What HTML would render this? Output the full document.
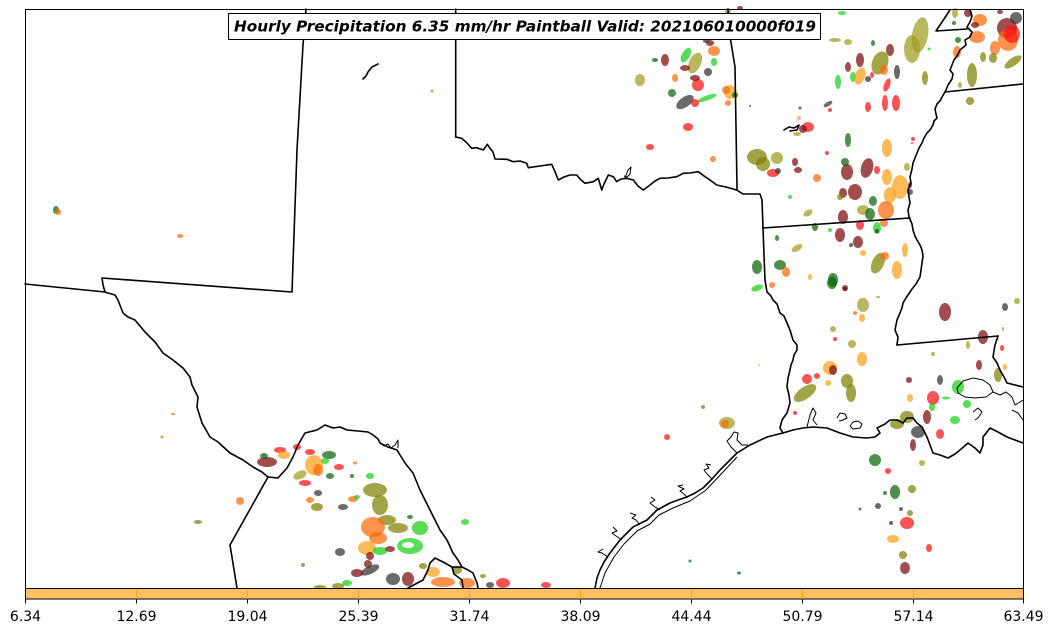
<!DOCTYPE html>
<html><head><meta charset="utf-8"><style>
html,body{margin:0;padding:0;background:#fff;}
svg{display:block;}
.b{fill:none;stroke:#000;stroke-width:1.6;stroke-linejoin:round;stroke-linecap:round;}
.t{fill:none;stroke:#000;stroke-width:1;stroke-linejoin:round;}
.bl ellipse{fill-opacity:.72;}
.DR{fill:#7a0808}.R{fill:#ff1010}.O{fill:#ff6a08}.LO{fill:#ffa018}.OL{fill:#7f7f00}.OL2{fill:#a09c20}.G{fill:#18d018}.DG{fill:#0a640a}.GR{fill:#303030}
</style></head><body>
<svg width="1053" height="633" viewBox="0 0 1053 633" xmlns="http://www.w3.org/2000/svg">
<rect width="1053" height="633" fill="#fff"/>

<!-- precipitation blobs -->
<g class="bl">
<!-- far west -->
<ellipse class="DG" cx="56" cy="210" rx="3" ry="4"/><ellipse class="O" cx="58" cy="212" rx="3" ry="3"/>
<ellipse class="O" cx="180" cy="236" rx="3" ry="2"/>
<ellipse class="O" cx="432" cy="91" rx="1.5" ry="1.5"/>
<ellipse class="O" cx="173" cy="414" rx="2" ry="1"/><ellipse class="O" cx="162" cy="437" rx="1.5" ry="1.5"/>
<ellipse class="O" cx="240" cy="501" rx="4" ry="4"/>
<ellipse class="OL" cx="198" cy="522" rx="4" ry="2"/>
<!-- SW Texas cluster -->
<ellipse class="R" cx="280" cy="450" rx="6" ry="3"/>
<ellipse class="DR" cx="267" cy="462" rx="10" ry="5"/>
<ellipse class="DG" cx="264" cy="456" rx="4" ry="3"/>
<ellipse class="LO" cx="284" cy="455" rx="6" ry="4"/>
<ellipse class="R" cx="297" cy="447" rx="4" ry="3"/>
<ellipse class="R" cx="310" cy="452" rx="5" ry="3"/>
<ellipse class="LO" cx="314" cy="465" rx="9" ry="10"/>
<ellipse class="O" cx="318" cy="470" rx="5" ry="6"/>
<ellipse class="DG" cx="329" cy="455" rx="7" ry="4"/>
<ellipse class="G" cx="325" cy="461" rx="4" ry="3"/>
<ellipse class="R" cx="339" cy="467" rx="5" ry="3"/>
<ellipse class="OL2" cx="300" cy="475" rx="7" ry="4" transform="rotate(-25 300 475)"/>
<ellipse class="R" cx="305" cy="483" rx="6" ry="3"/>
<ellipse class="DG" cx="330" cy="476" rx="4" ry="3"/>
<ellipse class="G" cx="370" cy="476" rx="4" ry="3"/>
<ellipse class="DG" cx="352" cy="476" rx="2" ry="2"/>
<ellipse class="O" cx="355" cy="463" rx="2" ry="1.5"/>
<ellipse class="GR" cx="318" cy="493" rx="4" ry="3"/>
<ellipse class="O" cx="310" cy="500" rx="4" ry="3"/>
<ellipse class="OL" cx="317" cy="507" rx="6" ry="4"/>
<ellipse class="GR" cx="343" cy="507" rx="5" ry="3"/>
<ellipse class="O" cx="353" cy="499" rx="5" ry="3"/>
<ellipse class="G" cx="357" cy="497" rx="3" ry="2"/>
<ellipse class="OL" cx="375" cy="490" rx="12" ry="7"/>
<ellipse class="OL" cx="380" cy="505" rx="8" ry="10"/>
<ellipse class="OL" cx="387" cy="520" rx="9" ry="5"/>
<ellipse class="O" cx="373" cy="527" rx="12" ry="10"/>
<ellipse class="O" cx="378" cy="538" rx="9" ry="6"/>
<ellipse class="OL" cx="398" cy="528" rx="10" ry="5"/>
<ellipse class="G" cx="420" cy="528" rx="8" ry="7"/>
<ellipse class="G" cx="410" cy="546" rx="13" ry="8"/>
<ellipse fill="#fff" cx="408" cy="545" rx="6" ry="3" style="fill-opacity:1"/>
<ellipse class="LO" cx="367" cy="548" rx="9" ry="7"/>
<ellipse class="G" cx="380" cy="551" rx="7" ry="4"/>
<ellipse class="GR" cx="340" cy="552" rx="5" ry="4"/>
<ellipse class="DR" cx="370" cy="556" rx="4" ry="4"/>
<ellipse class="DR" cx="390" cy="549" rx="5" ry="3"/>
<ellipse class="DR" cx="368" cy="564" rx="4" ry="4"/>
<ellipse class="OL" cx="303" cy="565" rx="2" ry="2"/>
<ellipse class="GR" cx="370" cy="570" rx="10" ry="4" transform="rotate(-25 370 570)"/>
<ellipse class="DR" cx="357" cy="573" rx="6" ry="4"/>
<ellipse class="GR" cx="393" cy="579" rx="7" ry="6"/>
<ellipse class="DR" cx="408" cy="579" rx="6" ry="7"/>
<ellipse class="OL" cx="423" cy="566" rx="4" ry="3"/>
<ellipse class="LO" cx="433" cy="572" rx="7" ry="5"/>
<ellipse class="O" cx="443" cy="582" rx="12" ry="5"/>
<ellipse class="OL" cx="457" cy="570" rx="5" ry="4"/>
<ellipse class="O" cx="467" cy="583" rx="8" ry="5"/>
<ellipse class="OL" cx="483" cy="576" rx="3" ry="2"/>
<ellipse class="GR" cx="490" cy="585" rx="4" ry="3"/>
<ellipse class="R" cx="503" cy="583" rx="7" ry="5"/>
<ellipse class="R" cx="546" cy="585" rx="5" ry="3"/>
<ellipse class="G" cx="465" cy="522" rx="4" ry="3"/>
<ellipse class="G" cx="347" cy="583" rx="5" ry="3"/>
<ellipse class="OL" cx="338" cy="586" rx="6" ry="3"/>
<ellipse class="OL" cx="320" cy="587" rx="6" ry="2"/>
<ellipse class="DG" cx="410" cy="517" rx="3" ry="2"/>
<!-- central Texas / east Texas small -->
<ellipse class="R" cx="667" cy="437" rx="3" ry="3"/>
<ellipse class="OL" cx="703" cy="407" rx="2" ry="2"/>
<ellipse class="OL2" cx="727" cy="423" rx="8" ry="6"/>
<ellipse class="O" cx="725" cy="424" rx="4" ry="4"/>
<ellipse class="DG" cx="690" cy="561" rx="1.5" ry="1.5"/>
<ellipse class="DG" cx="739" cy="573" rx="2" ry="1.5"/>
<ellipse class="LO" cx="759" cy="365" rx="1" ry="1"/>
<!-- Louisiana -->
<ellipse class="G" cx="757" cy="288" rx="6" ry="3" transform="rotate(-20 757 288)"/>
<ellipse class="O" cx="772" cy="285" rx="3" ry="3"/>
<ellipse class="DG" cx="832" cy="283" rx="5" ry="6"/>
<ellipse class="DR" cx="845" cy="288" rx="3" ry="3"/>
<ellipse class="OL2" cx="863" cy="305" rx="6" ry="7"/>
<ellipse class="LO" cx="862" cy="318" rx="3" ry="4"/>
<ellipse class="O" cx="855" cy="313" rx="2" ry="2"/>
<ellipse class="OL2" cx="833" cy="329" rx="3" ry="3"/>
<ellipse class="R" cx="835" cy="339" rx="2" ry="2"/>
<ellipse class="OL2" cx="852" cy="344" rx="4" ry="4"/>
<ellipse class="LO" cx="862" cy="359" rx="5" ry="7"/>
<ellipse class="LO" cx="830" cy="368" rx="7" ry="7"/>
<ellipse class="DR" cx="833" cy="370" rx="4" ry="5"/>
<ellipse class="R" cx="807" cy="379" rx="5" ry="5"/>
<ellipse class="R" cx="817" cy="376" rx="3" ry="3"/>
<ellipse class="OL" cx="805" cy="393" rx="13" ry="6" transform="rotate(-35 805 393)"/>
<ellipse class="OL" cx="847" cy="381" rx="6" ry="7"/>
<ellipse class="OL" cx="851" cy="393" rx="5" ry="9"/>
<ellipse class="LO" cx="828" cy="383" rx="3" ry="3"/>
<ellipse class="R" cx="795" cy="413" rx="2" ry="2"/>
<ellipse class="DR" cx="945" cy="312" rx="6" ry="9"/>
<ellipse class="GR" cx="1005" cy="307" rx="3" ry="4"/>
<ellipse class="OL2" cx="1017" cy="301" rx="3" ry="3"/>
<ellipse class="DR" cx="983" cy="337" rx="5" ry="7"/>
<ellipse class="R" cx="1002" cy="348" rx="2" ry="3"/>
<ellipse class="OL2" cx="968" cy="345" rx="2" ry="4"/>
<ellipse class="OL2" cx="933" cy="354" rx="2" ry="2"/>
<ellipse class="DR" cx="979" cy="365" rx="3" ry="5"/>
<ellipse class="OL" cx="998" cy="375" rx="4" ry="7"/>
<ellipse class="LO" cx="1005" cy="367" rx="2" ry="3"/>
<ellipse class="DR" cx="909" cy="380" rx="3" ry="3"/>
<ellipse class="GR" cx="940" cy="380" rx="3" ry="5"/>
<ellipse class="G" cx="958" cy="387" rx="6" ry="7"/>
<ellipse class="R" cx="933" cy="398" rx="6" ry="7"/>
<ellipse class="G" cx="932" cy="407" rx="3" ry="4"/>
<ellipse class="G" cx="946" cy="398" rx="4" ry="1.5"/>
<ellipse class="LO" cx="910" cy="398" rx="3" ry="4"/>
<ellipse class="G" cx="967" cy="404" rx="4" ry="4"/>
<ellipse class="G" cx="955" cy="420" rx="5" ry="4"/>
<ellipse class="OL" cx="907" cy="417" rx="7" ry="6"/>
<ellipse class="OL" cx="897" cy="424" rx="7" ry="5"/>
<ellipse class="GR" cx="918" cy="432" rx="7" ry="6"/>
<ellipse class="DR" cx="927" cy="417" rx="4" ry="7"/>
<ellipse class="R" cx="940" cy="434" rx="4" ry="5"/>
<ellipse class="DR" cx="913" cy="445" rx="3" ry="6"/>
<ellipse class="OL2" cx="922" cy="463" rx="3" ry="3"/>
<ellipse class="DG" cx="875" cy="460" rx="6" ry="6"/>
<ellipse class="R" cx="888" cy="471" rx="3" ry="3"/>
<ellipse class="DG" cx="895" cy="492" rx="5" ry="7"/>
<ellipse class="DG" cx="885" cy="493" rx="2" ry="2"/>
<ellipse class="OL" cx="912" cy="489" rx="4" ry="4"/>
<ellipse class="GR" cx="878" cy="506" rx="3" ry="3"/>
<ellipse class="GR" cx="901" cy="509" rx="2" ry="2"/>
<ellipse class="OL" cx="910" cy="513" rx="3" ry="3"/>
<ellipse class="DG" cx="860" cy="509" rx="1.5" ry="1.5"/>
<ellipse class="R" cx="907" cy="523" rx="7" ry="6"/>
<ellipse class="DR" cx="891" cy="523" rx="2" ry="2"/>
<ellipse class="LO" cx="893" cy="539" rx="6" ry="4"/>
<ellipse class="OL" cx="903" cy="555" rx="4" ry="4"/>
<ellipse class="R" cx="929" cy="548" rx="3" ry="4"/>
<ellipse class="DR" cx="905" cy="568" rx="5" ry="6"/>
<ellipse class="OL2" cx="1003" cy="329" rx="1" ry="2"/>
<!-- north Texas / Oklahoma east -->
<ellipse class="G" cx="842" cy="13" rx="4" ry="2"/>
<ellipse class="OL2" cx="835" cy="40" rx="6" ry="2"/>
<ellipse class="OL2" cx="848" cy="42" rx="4" ry="3"/>
<ellipse class="DG" cx="873" cy="43" rx="2" ry="3"/>
<ellipse class="DR" cx="665" cy="60" rx="4" ry="6"/>
<ellipse class="DG" cx="655" cy="60" rx="3" ry="2"/>
<ellipse class="G" cx="686" cy="55" rx="4" ry="8" transform="rotate(30 686 55)"/>
<ellipse class="OL2" cx="695" cy="63" rx="6" ry="11" transform="rotate(25 695 63)"/>
<ellipse class="O" cx="714" cy="51" rx="6" ry="5"/>
<ellipse class="DR" cx="710" cy="43" rx="4" ry="3"/>
<ellipse class="GR" cx="706" cy="41" rx="3" ry="2"/>
<ellipse class="G" cx="714" cy="62" rx="3" ry="4"/>
<ellipse class="DR" cx="685" cy="68" rx="5" ry="3"/>
<ellipse class="GR" cx="708" cy="72" rx="4" ry="4"/>
<ellipse class="OL2" cx="640" cy="80" rx="5" ry="6"/>
<ellipse class="O" cx="675" cy="78" rx="3" ry="4"/>
<ellipse class="R" cx="698" cy="85" rx="6" ry="6"/>
<ellipse class="DR" cx="695" cy="78" rx="5" ry="3"/>
<ellipse class="DG" cx="672" cy="93" rx="4" ry="4"/>
<ellipse class="GR" cx="685" cy="102" rx="10" ry="5" transform="rotate(-35 685 102)"/>
<ellipse class="G" cx="707" cy="98" rx="10" ry="2.5" transform="rotate(-20 707 98)"/>
<ellipse class="R" cx="695" cy="103" rx="4" ry="4"/>
<ellipse class="LO" cx="730" cy="92" rx="6" ry="7"/>
<ellipse class="O" cx="726" cy="90" rx="4" ry="4"/>
<ellipse class="DG" cx="735" cy="95" rx="3" ry="3"/>
<ellipse class="O" cx="728" cy="103" rx="3" ry="3"/>
<ellipse class="R" cx="688" cy="127" rx="5" ry="4"/>
<ellipse class="R" cx="650" cy="147" rx="4" ry="3"/>
<ellipse class="O" cx="713" cy="159" rx="3" ry="3"/>
<ellipse class="OL2" cx="728" cy="12" rx="3" ry="4"/>
<ellipse class="DR" cx="740" cy="8" rx="3" ry="2"/>
<ellipse class="DR" cx="750" cy="106" rx="1" ry="1"/>
<!-- NE Texas / Arkansas -->
<ellipse class="DR" cx="860" cy="60" rx="4" ry="7"/>
<ellipse class="DR" cx="848" cy="67" rx="3" ry="5"/>
<ellipse class="OL" cx="880" cy="63" rx="8" ry="12" transform="rotate(20 880 63)"/>
<ellipse class="O" cx="884" cy="70" rx="4" ry="5"/>
<ellipse class="DR" cx="890" cy="50" rx="4" ry="6"/>
<ellipse class="G" cx="853" cy="77" rx="3" ry="5"/>
<ellipse class="LO" cx="860" cy="76" rx="5" ry="9" transform="rotate(20 860 76)"/>
<ellipse class="GR" cx="868" cy="79" rx="3" ry="3"/>
<ellipse class="R" cx="872" cy="75" rx="2" ry="3"/>
<ellipse class="GR" cx="897" cy="72" rx="3" ry="7"/>
<ellipse class="G" cx="838" cy="82" rx="3" ry="7"/>
<ellipse class="R" cx="887" cy="85" rx="3" ry="7" transform="rotate(20 887 85)"/>
<ellipse class="R" cx="868" cy="107" rx="3" ry="5"/>
<ellipse class="R" cx="885" cy="103" rx="3" ry="8"/>
<ellipse class="R" cx="896" cy="103" rx="4" ry="8"/>
<ellipse class="GR" cx="828" cy="104" rx="5" ry="2" transform="rotate(-30 828 104)"/>
<ellipse class="R" cx="830" cy="110" rx="2" ry="2"/>
<ellipse class="DR" cx="800" cy="108" rx="1.5" ry="1.5"/>
<ellipse class="LO" cx="799" cy="118" rx="2" ry="2"/>
<ellipse class="R" cx="808" cy="127" rx="6" ry="5"/>
<ellipse class="DR" cx="803" cy="129" rx="4" ry="4"/>
<ellipse class="OL2" cx="797" cy="134" rx="4" ry="2"/>
<ellipse class="DG" cx="848" cy="140" rx="3" ry="7"/>
<ellipse class="LO" cx="887" cy="148" rx="5" ry="9"/>
<ellipse class="R" cx="913" cy="139" rx="2" ry="2"/>
<ellipse class="OL" cx="757" cy="157" rx="10" ry="8"/>
<ellipse class="OL" cx="763" cy="164" rx="7" ry="7"/>
<ellipse class="OL2" cx="777" cy="158" rx="6" ry="6"/>
<ellipse class="R" cx="773" cy="173" rx="6" ry="4"/>
<ellipse class="GR" cx="778" cy="171" rx="3" ry="3"/>
<ellipse class="DR" cx="795" cy="162" rx="3" ry="4"/>
<ellipse class="DR" cx="798" cy="170" rx="4" ry="3"/>
<ellipse class="R" cx="827" cy="153" rx="2" ry="2"/>
<ellipse class="O" cx="817" cy="178" rx="4" ry="4"/>
<ellipse class="DR" cx="847" cy="172" rx="6" ry="8"/>
<ellipse class="DG" cx="845" cy="162" rx="4" ry="4"/>
<ellipse class="DR" cx="867" cy="168" rx="6" ry="10" transform="rotate(15 867 168)"/>
<ellipse class="R" cx="877" cy="170" rx="3" ry="4"/>
<ellipse class="LO" cx="887" cy="177" rx="5" ry="8"/>
<ellipse class="LO" cx="900" cy="187" rx="8" ry="12"/>
<ellipse class="OL2" cx="907" cy="167" rx="3" ry="4"/>
<ellipse class="LO" cx="890" cy="195" rx="6" ry="8"/>
<ellipse class="DR" cx="855" cy="192" rx="7" ry="8"/>
<ellipse class="DR" cx="843" cy="193" rx="4" ry="5"/>
<ellipse class="OL" cx="840" cy="197" rx="3" ry="3"/>
<ellipse class="DR" cx="910" cy="185" rx="2" ry="3"/>
<ellipse class="GR" cx="910" cy="192" rx="3" ry="3"/>
<ellipse class="G" cx="790" cy="197" rx="2" ry="2"/>
<ellipse class="OL2" cx="808" cy="213" rx="5" ry="3" transform="rotate(-30 808 213)"/>
<ellipse class="DR" cx="843" cy="217" rx="5" ry="7"/>
<ellipse class="OL2" cx="863" cy="210" rx="6" ry="5"/>
<ellipse class="DG" cx="873" cy="201" rx="4" ry="5"/>
<ellipse class="DG" cx="870" cy="214" rx="5" ry="6"/>
<ellipse class="G" cx="877" cy="228" rx="4" ry="6"/>
<ellipse class="R" cx="860" cy="225" rx="4" ry="5"/>
<ellipse class="O" cx="886" cy="210" rx="8" ry="9"/>
<ellipse class="GR" cx="877" cy="231" rx="2" ry="2"/>
<ellipse class="DR" cx="840" cy="235" rx="5" ry="7"/>
<ellipse class="DR" cx="858" cy="242" rx="5" ry="6"/>
<ellipse class="GR" cx="851" cy="245" rx="2" ry="2"/>
<ellipse class="O" cx="884" cy="223" rx="4" ry="4"/>
<ellipse class="DG" cx="815" cy="227" rx="3" ry="4"/>
<ellipse class="G" cx="830" cy="230" rx="2" ry="2"/>
<ellipse class="DG" cx="777" cy="238" rx="2" ry="3"/>
<ellipse class="OL2" cx="797" cy="248" rx="6" ry="3" transform="rotate(-30 797 248)"/>
<ellipse class="OL" cx="878" cy="263" rx="6" ry="11" transform="rotate(25 878 263)"/>
<ellipse class="LO" cx="863" cy="253" rx="3" ry="3"/>
<ellipse class="O" cx="885" cy="256" rx="4" ry="4"/>
<ellipse class="LO" cx="905" cy="250" rx="3" ry="7"/>
<ellipse class="LO" cx="897" cy="270" rx="5" ry="9"/>
<ellipse class="DG" cx="757" cy="267" rx="5" ry="7"/>
<ellipse class="DG" cx="780" cy="265" rx="6" ry="5"/>
<ellipse class="O" cx="786" cy="272" rx="4" ry="5"/>
<ellipse class="DG" cx="833" cy="280" rx="5" ry="7"/>
<ellipse class="LO" cx="810" cy="277" rx="2" ry="3"/>
<ellipse class="DR" cx="845" cy="289" rx="2" ry="2"/>
<ellipse class="OL2" cx="878" cy="297" rx="2" ry="1"/>
<ellipse class="R" cx="912" cy="143" rx="1" ry="1"/>
<!-- top right -->
<ellipse class="OL2" cx="920" cy="35" rx="8" ry="18" transform="rotate(10 920 35)"/>
<ellipse class="OL2" cx="912" cy="49" rx="8" ry="14"/>
<ellipse class="OL2" cx="955" cy="13" rx="3" ry="5"/>
<ellipse class="DG" cx="954" cy="23" rx="2" ry="2"/>
<ellipse class="DR" cx="968" cy="13" rx="4" ry="4"/>
<ellipse class="O" cx="980" cy="20" rx="7" ry="6"/>
<ellipse class="DR" cx="975" cy="25" rx="4" ry="3"/>
<ellipse class="O" cx="977" cy="37" rx="8" ry="6"/>
<ellipse class="DG" cx="958" cy="40" rx="3" ry="3"/>
<ellipse class="O" cx="957" cy="52" rx="4" ry="6"/>
<ellipse class="DR" cx="1000" cy="12" rx="3" ry="2"/>
<ellipse class="DR" cx="1007" cy="28" rx="10" ry="10"/>
<ellipse class="O" cx="1008" cy="40" rx="10" ry="11"/>
<ellipse class="R" cx="1012" cy="34" rx="8" ry="9"/>
<ellipse class="GR" cx="1016" cy="18" rx="6" ry="6"/>
<ellipse class="O" cx="995" cy="48" rx="5" ry="7"/>
<ellipse class="OL" cx="1013" cy="62" rx="10" ry="4" transform="rotate(-35 1013 62)"/>
<ellipse class="OL" cx="993" cy="58" rx="4" ry="5"/>
<ellipse class="OL" cx="983" cy="57" rx="3" ry="5"/>
<ellipse class="OL" cx="972" cy="75" rx="5" ry="12"/>
<ellipse class="OL" cx="970" cy="101" rx="4" ry="4"/>
<ellipse class="OL" cx="925" cy="78" rx="3" ry="7"/>
<ellipse class="OL2" cx="960" cy="85" rx="2" ry="3"/>
<ellipse class="G" cx="929" cy="49" rx="1.5" ry="1.5"/>
</g>

<!-- boundaries -->
<g>
<polyline class="b" points="306,9 303,45 297,150 292,292 102,278 103,285 105,292 25,284"/>
<polyline class="b" points="105,292 108,293 115,295 118,300 123,313 128,317 135,320 145,332 155,342 163,353 173,360 183,368 190,377 192,385 198,397 197,407 202,423 210,437 218,442 230,453 243,460 253,467 262,472 268,477 278,478 287,468 293,457 298,445 305,433 317,430 325,425 333,428 340,427 347,430 358,431 368,432 373,435 378,439 380,443 388,447 397,450 405,463 413,473 420,490 425,500 430,510 440,530 447,540 453,553 458,560 462,567 468,570 473,573 475,578 477,583 478,588"/>
<polyline class="t" points="380,443 384,446 388,444 391,448 395,445 398,440 398,448"/>
<polyline class="b" points="268,477 230,545 237,588"/>
<polyline class="b" points="408,588 423,580 428,570 430,563 435,558 443,562 452,567 462,567"/>
<polyline class="b" points="452,567 454,574 462,580 463,588"/>
<polyline class="b" points="455.7,9 455.7,137"/>
<polyline class="b" points="455.7,137 461.7,138.3 466,142 471.7,148.3 476.7,147.7 483.3,150 487.3,144.3 490,148.3 493,152 495,159 506.7,159.3 513.3,161.7 520,161 526.7,163.3 528.3,167.7 540,166 551.7,164.3 555,171.7 558.3,180 564,177 570,175 576.7,175 581,180 585,183.3 593.3,181.7 598.3,178.3 601.7,190 604,184 608.3,175 613.3,176.7 616.7,181.7 621,179 626.7,178.3 633.3,180 638,186 643.3,190 650,185 655,181 660,178.3 668,178 676.7,176.7 683.3,173.3 690,173 698.3,171.7 705,176.7 710,180 716.7,185 726,187 736.7,190 743,194 750,194 760,194 762,200 763,228"/>
<polyline class="t" points="625,178 628,170 631,167 630,174 627,177 624,176"/>
<polyline class="b" points="728,9 729,30 735,67 737,187 737,190"/>
<polyline class="b" points="763,228 910,218"/>
<polyline class="b" points="763,228 764,255 765,280 767,292 771,296 773,300 777,304 780,313 784,316 787,323 790,330 793,340 797,345 797,350 794,355 793,360 791,365 790,370 788,378 787,387 789,395 790,403 787,413 782,420 780,428 783,433"/>
<polyline class="b" points="783,433 767,437 750,445 737,453 728,462 720,470 712,479 703,488 695,493 687,497 678,500 670,503 657,510 647,520 633,527 620,540 610,553 604,562 600,570 597,578 595,588"/>
<polyline class="t" points="737,457 724,471 706,490 690,501 673,508 659,515 650,524 637,531 624,544 614,557 605,573 600,588"/>
<polyline class="t" points="737,453 731,447 727,441 731,437 734,432 738,433 737,440 742,445 748,445"/>
<polyline class="t" points="712,479 707,474 704,470 709,468 706,464 711,465"/>
<polyline class="t" points="687,497 684,494 680,491 684,489 678,486 683,485"/>
<polyline class="t" points="660,510 655,507 650,503 655,500 651,497"/>
<polyline class="t" points="640,525 636,520 632,518 636,515 630,513"/>
<polyline class="t" points="622,540 616,536 612,533 617,531 613,527"/>
<polyline class="t" points="608,557 602,553 598,552 603,549"/>
<polyline class="b" points="783,433 793,430 803,428 813,427 827,428 840,433 853,437 867,438 875,437 880,433 877,428 885,424 890,420 897,420 903,423 907,418 913,418 917,423 922,427 927,437 933,453 940,455 948,458 955,454 960,450 968,443 975,448 980,453 983,445 983,437 990,428 998,432 1007,437 1015,440 1023,443"/>
<polyline class="t" points="807,427 810,415 813,408 816,413 813,420 817,425"/>
<polyline class="t" points="837,418 840,413 845,414 847,418 843,420 839,421"/>
<polyline class="t" points="850,426 853,422 858,421 862,424 860,428 853,429 850,426"/>
<polyline class="t" points="957,388 963,381 973,378 983,380 990,385 993,392 986,397 975,398 965,397 958,393 957,388"/>
<polyline class="t" points="973,412 978,408 982,412 978,418 975,420"/>
<polyline class="t" points="993,392 1000,395 1006,392 1012,397 1015,405 1020,402 1023,400"/>
<polyline class="t" points="1012,410 1018,413 1023,420"/>
<polyline class="b" points="897,345 998,336"/>
<polyline class="b" points="998,336 995,345 993,357 997,363 1000,370 1004,377 1007,383 1015,385 1023,387"/>
<polyline class="b" points="970,10 972,16 970,22 967,27 972,32 970,37 965,40 966,45 960,50 957,56 954,60 952,65 950,70 953,74 952,79 948,85 946,90 945,92 942,97 940,101 937,104 935,109 936,114 937,118 934,121 933,125 930,130 927,133 924,138 922,143 919,148 917,153 915,158 913,163 912,169 910,177 911,183 908,190 909,197 910,203 908,210 909,217 912,224 913,230 915,236 917,240 920,245 922,250 923,256 922,263 921,270 920,277 916,284 912,289 910,292 906,298 903,303 902,308 900,313 897,320 895,330 898,337 897,345"/>
<polyline class="b" points="945,92 1023,84"/>
<polyline class="b" points="950,10 936,31 967,29"/>
<polyline class="b" points="363,79 366,76 368,72 372,67 378,64"/>
<polyline class="b" points="784,130 789,127 794,128 799,125 797,130 790,131"/>
</g>

<!-- map frame -->
<rect x="25.5" y="9.5" width="998" height="579" fill="none" stroke="#000" stroke-width="1"/>

<!-- title -->
<rect x="228.5" y="13.5" width="592" height="26" fill="#fff" stroke="#000" stroke-width="1"/>
<text x="234" y="31.5" font-family="DejaVu Sans, Liberation Sans, sans-serif" font-size="15.5" font-weight="bold" font-style="italic" textLength="582" lengthAdjust="spacingAndGlyphs">Hourly Precipitation 6.35 mm/hr Paintball Valid: 202106010000f019</text>

<!-- colorbar -->
<rect x="25.5" y="588.5" width="998" height="10.5" fill="#ffc062" stroke="#000" stroke-width="1"/>
<g stroke="#ffa020" stroke-width="1">
<line x1="136.5" y1="589" x2="136.5" y2="599"/><line x1="247.5" y1="589" x2="247.5" y2="599"/><line x1="358.5" y1="589" x2="358.5" y2="599"/><line x1="469.5" y1="589" x2="469.5" y2="599"/><line x1="580.5" y1="589" x2="580.5" y2="599"/><line x1="691.5" y1="589" x2="691.5" y2="599"/><line x1="802.5" y1="589" x2="802.5" y2="599"/><line x1="913.5" y1="589" x2="913.5" y2="599"/>
</g>
<g stroke="#000" stroke-width="1">
<line x1="25.5" y1="599" x2="25.5" y2="603.5"/><line x1="136.5" y1="599" x2="136.5" y2="603.5"/><line x1="247.5" y1="599" x2="247.5" y2="603.5"/><line x1="358.5" y1="599" x2="358.5" y2="603.5"/><line x1="469.5" y1="599" x2="469.5" y2="603.5"/><line x1="580.5" y1="599" x2="580.5" y2="603.5"/><line x1="691.5" y1="599" x2="691.5" y2="603.5"/><line x1="802.5" y1="599" x2="802.5" y2="603.5"/><line x1="913.5" y1="599" x2="913.5" y2="603.5"/><line x1="1023.5" y1="599" x2="1023.5" y2="603.5"/>
</g>
<g font-family="DejaVu Sans, Liberation Sans, sans-serif" font-size="14" text-anchor="middle" fill="#000">
<text x="25.5" y="621">6.34</text><text x="136.5" y="621">12.69</text><text x="247.5" y="621">19.04</text><text x="358.5" y="621">25.39</text><text x="469.5" y="621">31.74</text><text x="580.5" y="621">38.09</text><text x="691.5" y="621">44.44</text><text x="802.5" y="621">50.79</text><text x="913.5" y="621">57.14</text><text x="1023.5" y="621">63.49</text>
</g>
</svg>
</body></html>
